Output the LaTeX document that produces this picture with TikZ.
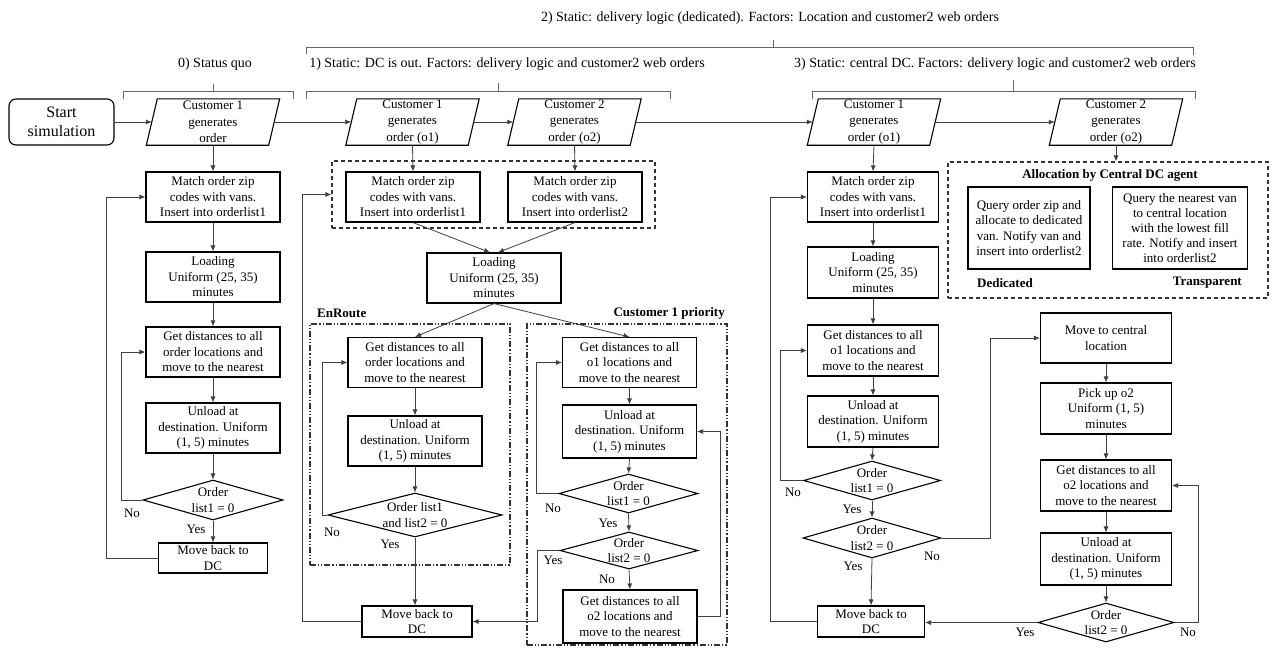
\documentclass[tikz,border=0pt]{standalone}
\usepackage{fontspec}
\setmainfont{Liberation Serif}
\usetikzlibrary{arrows.meta,shapes.geometric,calc}
\newcommand\txtfont{\fontsize{13}{15.5}\selectfont}
\newcommand\ttlfont{\fontsize{14}{16}\selectfont}
\newcommand\bigtxtfont{\fontsize{16}{19}\selectfont}
\begin{document}
\begin{tikzpicture}[x=1pt,y=-1pt,
  bx/.style={draw=black,line width=1.1pt},
  box/.style={bx,minimum width=134pt,minimum height=50pt,inner sep=0pt,align=center,font=\txtfont},
  pg/.style={minimum width=122pt,minimum height=46pt,inner sep=0pt,align=center,font=\fontsize{13}{16.5}\selectfont},
  dia/.style={bx,diamond,inner sep=0pt,minimum width=140pt,minimum height=40pt},
  dtxt/.style={align=center,font=\txtfont,inner sep=0pt},
  ln/.style={draw=black!75,line width=0.8pt},
  arr/.style={ln,-{Latex[length=6pt,width=5pt]}},
  lbl/.style={font=\txtfont,inner sep=0pt},
  tlbl/.style={font=\ttlfont,inner sep=0pt},
  blbl/.style={font=\txtfont\bfseries,inner sep=0pt},
  brk/.style={draw=black!60,line width=0.8pt},
  gbox/.style={draw=black!80,line width=1.1pt,dash pattern=on 4pt off 3pt,inner sep=0pt},
  dbox/.style={draw=black!80,line width=1.1pt,dash pattern=on 6pt off 2pt on 1.2pt off 2pt on 1.2pt off 2pt,inner sep=0pt},
]
\useasboundingbox (0,0) rectangle (1275,649);

% ---------- titles and brackets ----------
\node[tlbl] (t2) at (770,18) {2) Static: delivery logic (dedicated). Factors: Location and customer2 web orders};
\node[tlbl] (t0) at (215,64) {0) Status quo};
\node[tlbl] (t1) at (507,64) {1) Static: DC is out. Factors: delivery logic and customer2 web orders};
\node[tlbl] (t3) at (995,64) {3) Static: central DC. Factors: delivery logic and customer2 web orders};
\draw[brk] (306,54) -- (306,47) -- (1193,47) -- (1193,55);
\draw[brk] (773,47) -- (773,40);
\draw[brk] (123,99) -- (123,91) -- (293,91) -- (293,99);
\draw[brk] (213,91) -- (213,84);
\draw[brk] (306,99) -- (306,91) -- (670,91) -- (670,99);
\draw[brk] (498,91) -- (498,83);
\draw[brk] (812,99) -- (812,91) -- (1195,91) -- (1195,99);
\draw[brk] (1013,91) -- (1013,80);

% ---------- top row ----------
\node[bx,rounded corners=7pt,minimum width=105pt,minimum height=46pt,inner sep=0pt,align=center,font=\bigtxtfont] (start) at (61.5,122) {Start\\simulation};
\node[pg] (p0) at (213,122) {Customer 1\\generates\\order};
\node[pg] (p1a) at (412.5,122) {Customer 1\\generates\\order (o1)};
\node[pg] (p1b) at (574.5,122) {Customer 2\\generates\\order (o2)};
\node[pg] (p3a) at (874,122) {Customer 1\\generates\\order (o1)};
\node[pg] (p3b) at (1116,122) {Customer 2\\generates\\order (o2)};
\foreach \n in {p0,p1a,p1b,p3a,p3b}
  \draw[bx] ([xshift=-5.5pt]\n.south west) -- ([xshift=5.5pt]\n.north west) -- ([xshift=5.5pt]\n.north east) -- ([xshift=-5.5pt]\n.south east) -- cycle;
\draw[arr] (start.east) -- (p0.west);
\draw[arr] (p0.east) -- (p1a.west);
\draw[arr] (p1a.east) -- (p1b.west);
\draw[arr] (p1b.east) -- (p3a.west);
\draw[arr] (p3a.east) -- (p3b.west);

% ---------- column 0 ----------
\node[box] (m0) at (213,197) {Match order zip\\codes with vans.\\Insert into orderlist1};
\node[box] (l0) at (213,277) {Loading\\Uniform (25, 35)\\minutes};
\node[box] (g0) at (213,352) {Get distances to all\\order locations and\\move to the nearest};
\node[box] (u0) at (213,428) {Unload at\\destination. Uniform\\(1, 5) minutes};
\node[dia] (d0) at (213,500) {};
\node[dtxt] at (d0) {Order\\list1 = 0};
\node[box,minimum width=109pt,minimum height=30pt] (mb0) at (213,558) {Move back to\\DC};
\draw[arr] (p0.south) -- (m0.north);
\draw[arr] (m0.south) -- (l0.north);
\draw[arr] (l0.south) -- (g0.north);
\draw[arr] (g0.south) -- (u0.north);
\draw[arr] (u0.south) -- (d0.north);
\draw[arr] (d0.south) -- (mb0.north);
\draw[arr] (d0.west) -- ([xshift=-21pt]d0.west) |- (g0.west);
\draw[arr] (mb0.west) -- ([xshift=-52pt]mb0.west) |- (m0.west);
\node[lbl] at (132,513) {No};
\node[lbl] at (196,529) {Yes};

% ---------- column 1 ----------
\node[gbox,minimum width=323pt,minimum height=67pt] (g1) at (493.5,194.5) {};
\node[box] (m1a) at (413,197) {Match order zip\\codes with vans.\\Insert into orderlist1};
\node[box] (m1b) at (575,197) {Match order zip\\codes with vans.\\Insert into orderlist2};
\node[box] (l1) at (494,278) {Loading\\Uniform (25, 35)\\minutes};
\draw[arr] (p1a.south) -- (m1a.north);
\draw[arr] (p1b.south) -- (m1b.north);
\draw[arr] (m1a.south) -- ([xshift=-4pt]l1.north);
\draw[arr] (m1b.south) -- ([xshift=4pt]l1.north);

\node[dbox,minimum width=200pt,minimum height=241pt] (er) at (410,444.5) {};
\node[blbl,anchor=west] at (317,313) {EnRoute};
\node[dbox,minimum width=200pt,minimum height=321pt] (cp) at (627,484.5) {};
\node[blbl,anchor=east] at (725,313) {Customer 1 priority};

\node[box] (ge) at (415,362.5) {Get distances to all\\order locations and\\move to the nearest};
\node[box] (ue) at (415,441) {Unload at\\destination. Uniform\\(1, 5) minutes};
\node[dia,minimum width=174pt,minimum height=44pt] (de) at (415,515) {};
\node[dtxt] at (de) {Order list1\\and list2 = 0};
\node[box,minimum width=110pt,minimum height=31pt] (mb1) at (417,621.5) {Move back to\\DC};
\draw[arr] (l1.south) -- (ge.north);
\draw[arr] (ge.south) -- (ue.north);
\draw[arr] (ue.south) -- (de.north);
\draw[arr] (de.south) -- (de.south |- mb1.north);
\draw[arr] (de.west) -- ([xshift=-5pt]de.west) |- (ge.west);
\draw[arr] (mb1.west) -- ([xshift=-59pt]mb1.west) |- (g1.west);
\node[lbl] at (332,532) {No};
\node[lbl] at (390,544) {Yes};

\node[box] (gc) at (629.5,362.5) {Get distances to all\\o1 locations and\\move to the nearest};
\node[box,minimum height=53pt] (uc) at (629.5,431.5) {Unload at\\destination. Uniform\\(1, 5) minutes};
\node[dia,minimum width=139pt,minimum height=39pt] (dc1) at (628.5,493.5) {};
\node[dtxt] at (dc1) {Order\\list1 = 0};
\node[dia,minimum width=138pt,minimum height=37pt] (dc2) at (629,550.5) {};
\node[dtxt] at (dc2) {Order\\list2 = 0};
\node[box,minimum height=53pt] (go2c) at (630,616.5) {Get distances to all\\o2 locations and\\move to the nearest};
\draw[arr] (l1.south) -- (gc.north);
\draw[arr] (gc.south) -- (uc.north);
\draw[arr] (uc.south) -- (dc1.north);
\draw[arr] (dc1.south) -- (dc2.north);
\draw[arr] (dc2.south) -- (go2c.north);
\draw[arr] (dc1.west) -- (536,493.5) |- (gc.west);
\draw[arr] (dc2.west) -- (537,550.5) |- (mb1.east);
\draw[arr] (go2c.east) -- (720,616.5) |- (uc.east);
\node[lbl] at (553,508) {No};
\node[lbl] at (608,523) {Yes};
\node[lbl] at (553,560) {Yes};
\node[lbl] at (607,579) {No};

% ---------- column 3 ----------
\node[box,minimum width=131pt] (m3) at (873,197) {Match order zip\\codes with vans.\\Insert into orderlist1};
\node[box,minimum width=131pt,minimum height=51pt] (l3) at (873,272.5) {Loading\\Uniform (25, 35)\\minutes};
\node[box,minimum width=131pt,minimum height=51pt] (g3) at (873,350.5) {Get distances to all\\o1 locations and\\move to the nearest};
\node[box,minimum width=131pt,minimum height=51pt] (u3) at (873,421.5) {Unload at\\destination. Uniform\\(1, 5) minutes};
\node[dia,minimum width=137pt,minimum height=39pt] (d3a) at (872,480.5) {};
\node[dtxt] at (d3a) {Order\\list1 = 0};
\node[dia,minimum width=138pt,minimum height=40pt] (d3b) at (872,538) {};
\node[dtxt] at (d3b) {Order\\list2 = 0};
\node[box,minimum width=107pt,minimum height=31pt] (mb3) at (871,621.5) {Move back to\\DC};
\draw[arr] (p3a.south) -- (m3.north);
\draw[arr] (m3.south) -- (l3.north);
\draw[arr] (l3.south) -- (g3.north);
\draw[arr] (g3.south) -- (u3.north);
\draw[arr] (u3.south) -- (d3a.north);
\draw[arr] (d3a.south) -- (d3b.north);
\draw[arr] (d3b.south) -- (mb3.north);
\draw[arr] (d3a.west) -- (780,480.5) |- (g3.west);
\draw[arr] (mb3.west) -- (770,621.5) |- (m3.west);
\node[lbl] at (793,492) {No};
\node[lbl] at (852,509) {Yes};
\node[lbl] at (932,556) {No};
\node[lbl] at (853,566) {Yes};

% ---------- allocation box ----------
\node[gbox,minimum width=320pt,minimum height=136pt] (al) at (1108,230) {};
\node[blbl] at (1110,175) {Allocation by Central DC agent};
\node[box,minimum width=122pt,minimum height=82pt] (ded) at (1029,228) {Query order zip and\\allocate to dedicated\\van. Notify van and\\insert into orderlist2};
\node[box,minimum width=135pt,minimum height=82pt,font=\fontsize{13}{15}\selectfont] (tra) at (1180,228) {Query the nearest van\\to central location\\with the lowest fill\\rate. Notify and insert\\into orderlist2};
\node[blbl,anchor=west] at (977,283) {Dedicated};
\node[blbl,anchor=east] at (1242,283) {Transparent};
\draw[arr] (p3b.south) -- (p3b.south |- al.north);

% ---------- column 3b ----------
\node[box,minimum width=131pt] (mc) at (1106,338) {Move to central\\location};
\node[box,minimum width=131pt,minimum height=51pt] (pu) at (1106,408.5) {Pick up o2\\Uniform (1, 5)\\minutes};
\node[box,minimum width=131pt,minimum height=51pt] (go2) at (1106,485.5) {Get distances to all\\o2 locations and\\move to the nearest};
\node[box,minimum width=131pt,minimum height=52pt] (uo2) at (1106,559) {Unload at\\destination. Uniform\\(1, 5) minutes};
\node[dia,minimum width=136pt,minimum height=39pt] (do2) at (1106,622.5) {};
\node[dtxt] at (do2) {Order\\list2 = 0};
\draw[arr] (mc.south) -- (pu.north);
\draw[arr] (pu.south) -- (go2.north);
\draw[arr] (go2.south) -- (uo2.north);
\draw[arr] (uo2.south) -- (do2.north);
\draw[arr] (d3b.east) -- (990,538) |- (mc.west);
\draw[arr] (do2.west) -- (do2.west -| mb3.east);
\draw[arr] (do2.east) -- (1198,622.5) |- (go2.east);
\node[lbl] at (1025,632) {Yes};
\node[lbl] at (1188,632) {No};
\end{tikzpicture}
\end{document}
